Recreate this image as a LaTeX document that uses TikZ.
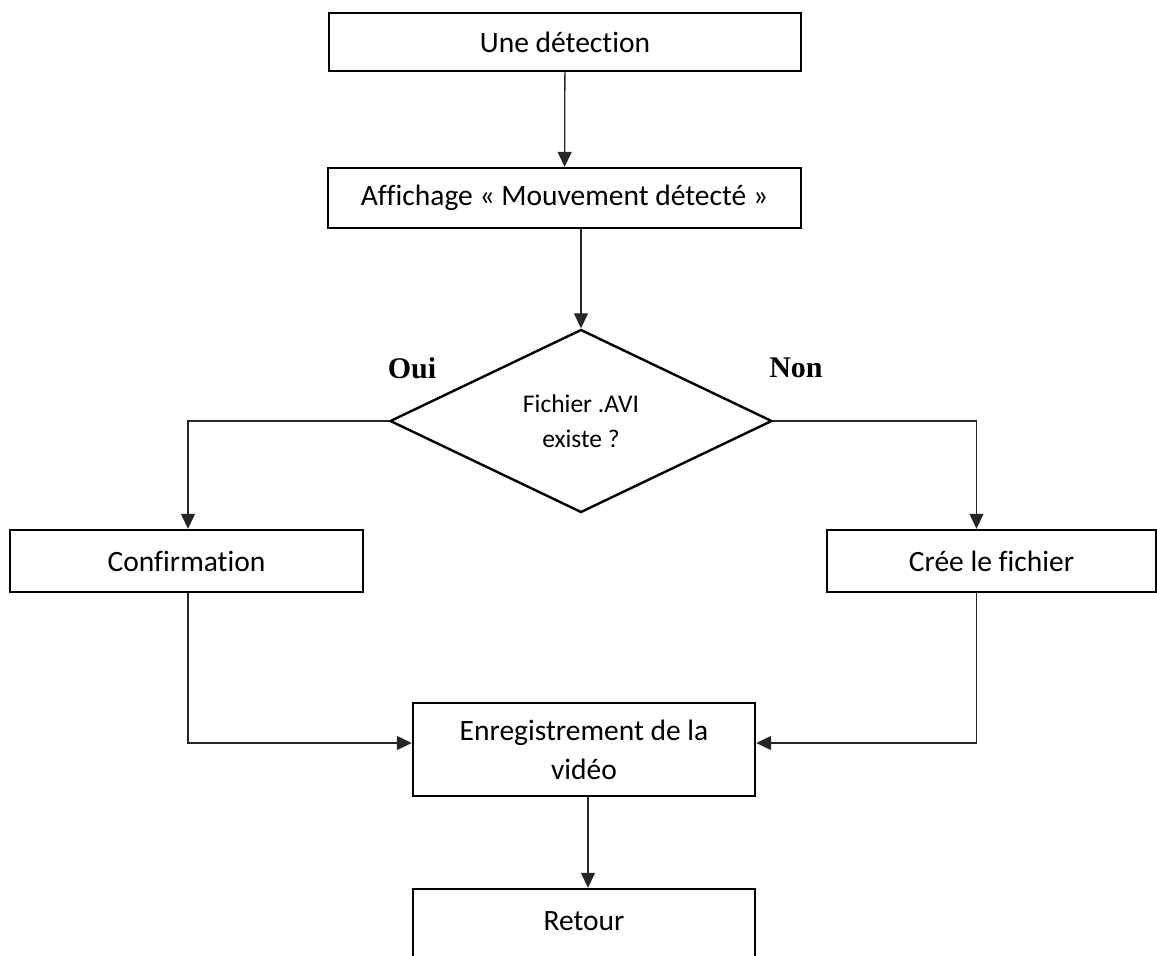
\documentclass[tikz,border=0pt]{standalone}
\usepackage{fontspec}
\setmainfont[Ligatures=CommonOff]{Carlito}
\newfontfamily\ouinonfont{Liberation Serif}
\usepackage{tikz}
\usetikzlibrary{arrows.meta, positioning, shapes.geometric, calc}

\begin{document}
\begin{tikzpicture}[
  x=1pt, y=-1pt,
  every node/.style={font=\fontsize{29.5}{39}\selectfont},
  box/.style={draw, line width=2.4pt, inner sep=0pt, align=center},
  decision/.style={draw, diamond, line width=2.4pt, inner sep=0pt, align=center, minimum width=382pt, minimum height=183pt, font=\fontsize{25.5}{35}\selectfont},
  answer/.style={font=\ouinonfont\bfseries\fontsize{30}{36}\selectfont},
  arrow/.style={-{Triangle[length=15pt, width=14pt]}, line width=1.3pt, color=black!85},
  line/.style={line width=1.3pt, color=black!85}
]
  \useasboundingbox (0,0) rectangle (1157,956);
  \clip (0,0) rectangle (1157,956);

  \node[box, minimum width=472pt, minimum height=58pt] (det) at (565, 42) {Une détection};
  \node[box, minimum width=473pt, minimum height=60pt] (aff) at (564.5, 198) {Affichage « Mouvement détecté »};

  % Test du fichier
  \node[decision] (avi) at (581, 421) {Fichier .AVI\\ existe ?};
  \node[answer] (oui) at (412, 368) {Oui};
  \node[answer] (non) at (796, 368) {Non};

  % Les deux branches
  \node[box, minimum width=353pt, minimum height=62pt] (conf) at (186.5, 561) {Confirmation};
  \node[box, minimum width=329pt, minimum height=62pt] (cree) at (991.5, 561) {Crée le fichier};

  % Suite commune
  \node[box, minimum width=342pt, minimum height=93pt] (enr) at (584, 749.5) {Enregistrement de la\\ vidéo};
  \node[box, minimum width=342pt, minimum height=111pt] (ret) at (584, 944.5) {\raisebox{46pt}{Retour}};

  \draw[arrow] (det) -- (aff);
  \draw[arrow] (aff.south -| avi.north) -- (avi.north);
  \draw[arrow] (avi.west) -| ([xshift=1.5pt]conf.north);
  \draw[arrow] (avi.east) -| ([xshift=-15pt]cree.north);
  \draw[arrow] ([xshift=1.5pt]conf.south) |- ([yshift=6.5pt]enr.west);
  \draw[arrow] ([xshift=-15pt]cree.south) |- ([yshift=6.5pt]enr.east);
  \draw[arrow] ([xshift=4pt]enr.south) -- ([xshift=4pt]ret.north);

\end{tikzpicture}
\end{document}
